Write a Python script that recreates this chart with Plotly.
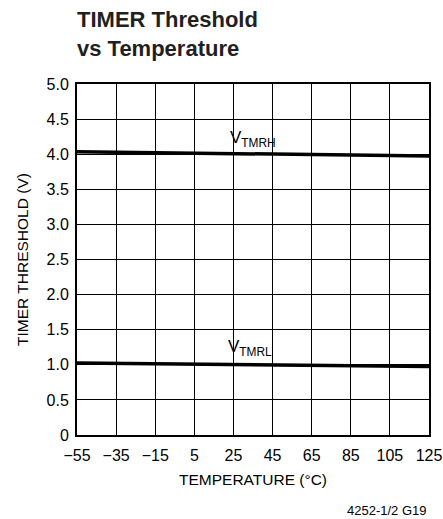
import plotly.graph_objects as go

temps = [-55, 125]
v_tmrh = [4.035, 3.975]
v_tmrl = [1.025, 0.975]
x_ticks = [-55, -35, -15, 5, 25, 45, 65, 85, 105, 125]
x_tick_text = ["\u221255", "\u221235", "\u221215", "5", "25", "45", "65", "85", "105", "125"]
y_ticks = [0, 0.5, 1.0, 1.5, 2.0, 2.5, 3.0, 3.5, 4.0, 4.5, 5.0]
y_tick_text = ["0", "0.5", "1.0", "1.5", "2.0", "2.5", "3.0", "3.5", "4.0", "4.5", "5.0"]

FONT = "Liberation Sans, Arial, sans-serif"

fig = go.Figure()
for ys in (v_tmrh, v_tmrl):
    fig.add_trace(go.Scatter(x=temps, y=ys, mode="lines",
                             line=dict(color="black", width=3.5),
                             showlegend=False, hoverinfo="skip"))

fig.add_annotation(x=25, y=4.0, yshift=15, text="V<sub>TMRH</sub>", showarrow=False,
                   xanchor="left", xshift=-5, font=dict(family=FONT, size=17, color="black"))
fig.add_annotation(x=25, y=1.0, yshift=17, text="V<sub>TMRL</sub>", showarrow=False,
                   xanchor="left", xshift=-7, font=dict(family=FONT, size=17, color="black"))

fig.add_annotation(x=0, y=1, xref="paper", yref="paper", xanchor="left", yanchor="bottom",
                   xshift=-2, yshift=21, align="left", showarrow=False,
                   text="<b>TIMER Threshold<br>vs Temperature</b>",
                   font=dict(family=FONT, size=22, color="#231f20"))
fig.add_annotation(x=1, y=0, xref="paper", yref="paper", xanchor="right", yanchor="top",
                   yshift=-66, showarrow=False, text="4252-1/2 G19",
                   font=dict(family=FONT, size=13, color="black"))

fig.update_xaxes(range=[-55, 125], tickvals=x_ticks, ticktext=x_tick_text,
                 showgrid=True, gridcolor="black", gridwidth=1,
                 showline=True, linecolor="black", linewidth=2, mirror=True,
                 ticks="", zeroline=False, automargin=False, ticklabelstandoff=5,
                 tickfont=dict(family=FONT, size=16, color="black"),
                 title=dict(text="TEMPERATURE (\u00b0C)", standoff=11,
                            font=dict(family=FONT, size=15.5, color="black")))
fig.update_yaxes(range=[0, 5], tickvals=y_ticks, ticktext=y_tick_text,
                 showgrid=True, gridcolor="black", gridwidth=1,
                 showline=True, linecolor="black", linewidth=2, mirror=True,
                 ticks="", zeroline=False, automargin=False, ticklabelstandoff=3,
                 tickfont=dict(family=FONT, size=16, color="black"),
                 title=dict(text="TIMER THRESHOLD (V)", standoff=14,
                            font=dict(family=FONT, size=15.5, color="black")))

fig.update_layout(width=443, height=519, margin=dict(l=77, r=14, t=84, b=84),
                  plot_bgcolor="white", paper_bgcolor="white")
fig.write_html("out.html", config={"displayModeBar": False},
               post_script="document.body.style.margin='0';")
